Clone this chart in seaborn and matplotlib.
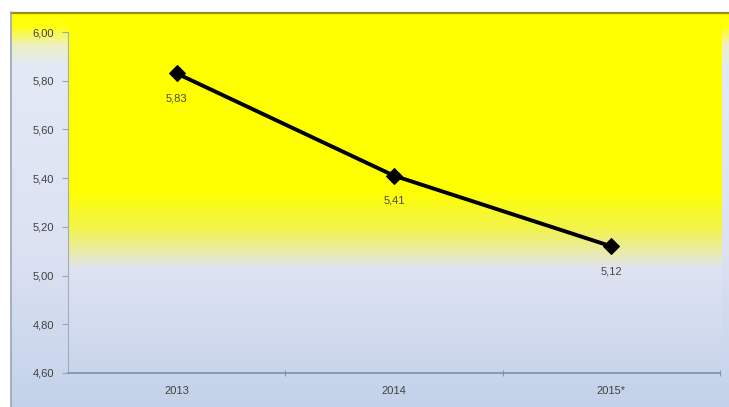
"""Line chart 2013-2015* on a yellow-to-lavender gradient chart area."""

import matplotlib.pyplot as plt
import numpy as np
import pandas as pd
import seaborn as sns
from matplotlib.colors import to_rgb
from matplotlib.ticker import FixedLocator, FuncFormatter

years = ['2013', '2014', '2015*']
values = [5.83, 5.41, 5.12]
y_ticks = [4.60, 4.80, 5.00, 5.20, 5.40, 5.60, 5.80, 6.00]

W, H = 729, 407


def comma(v, _=None):
    return f'{v:.2f}'.replace('.', ',')


def gradient(stops, top, bottom):
    """Vertical colour gradient between pixel rows top..bottom."""
    rows = np.arange(top, bottom)
    ys = [s[0] for s in stops]
    cols = np.array([to_rgb(s[1]) for s in stops])
    img = np.stack([np.interp(rows, ys, cols[:, c]) for c in range(3)], axis=-1)
    return img[:, None, :]


def main() -> None:
    sns.set_theme(style='white')
    plt.rcParams['font.family'] = ['Liberation Sans', 'DejaVu Sans']

    fig = plt.figure(figsize=(W / 100, H / 100), dpi=100)
    fig.patch.set_facecolor('white')

    # backgrounds, drawn in pixel coordinates
    bg = fig.add_axes([0, 0, 1, 1])
    bg.set_xlim(0, W)
    bg.set_ylim(H, 0)
    bg.axis('off')
    frame_stops = [(12, '#ffff00'), (26, '#ffff10'), (45, '#eef0c4'), (65, '#e3e9f5'),
                   (250, '#dce2f2'), (407, '#c3d2ea')]
    bg.imshow(gradient(frame_stops, 12, H), extent=[11, W, H, 12], aspect='auto')
    plot_stops = [(14, '#ffff00'), (190, '#ffff00'), (228, '#f2f34c'), (255, '#e8e9b8'),
                  (268, '#dfe3f3'), (373, '#c9d5eb')]
    bg.imshow(gradient(plot_stops, 14, 373), extent=[68, 722, 373, 14], aspect='auto')
    bg.plot([11, W], [12.5, 12.5], color='#9c8c1c', lw=1.6)
    bg.plot([11.5, 11.5], [12, H], color='#9aa4b8', lw=1.2)
    bg.set_xlim(0, W)
    bg.set_ylim(H, 0)

    # plot area
    ax = fig.add_axes([68 / W, 1 - 373 / H, 652 / W, 341 / H])
    ax.set_facecolor('none')
    df = pd.DataFrame({'year': years, 'value': values})
    sns.lineplot(data=df, x='year', y='value', ax=ax, color='black', lw=2.8,
                 marker='D', markersize=8, markeredgecolor='black', sort=False)

    for i, v in enumerate(values):
        ax.annotate(comma(v), (i, v), xytext=(0, -18), textcoords='offset points',
                    ha='center', va='center', fontsize=8, color='#4a4a3c')

    ax.set_xlim(-0.5, len(years) - 0.5)
    ax.set_ylim(4.6, 6.0)
    ax.set_yticks(y_ticks)
    ax.yaxis.set_major_formatter(FuncFormatter(comma))
    ax.xaxis.set_minor_locator(FixedLocator([0.5, 1.5, 2.5]))
    ax.set_xlabel('')
    ax.set_ylabel('')
    ax.tick_params(axis='y', length=4, width=0.8, color='#9aa4b8', pad=6,
                   labelsize=8, labelcolor='#404040', left=True)
    ax.tick_params(axis='x', which='major', length=0, pad=9, labelsize=8,
                   labelcolor='#404040')
    ax.tick_params(axis='x', which='minor', length=5, width=0.8, color='#8a96ae',
                   direction='inout', bottom=True)
    for s in ['top', 'right']:
        ax.spines[s].set_visible(False)
    ax.spines['left'].set_color('#a4acbc')
    ax.spines['left'].set_linewidth(0.8)
    ax.spines['bottom'].set_color('#8090a8')
    ax.spines['bottom'].set_linewidth(1.2)

    fig.savefig('out.png', dpi=100)


if __name__ == '__main__':
    main()
